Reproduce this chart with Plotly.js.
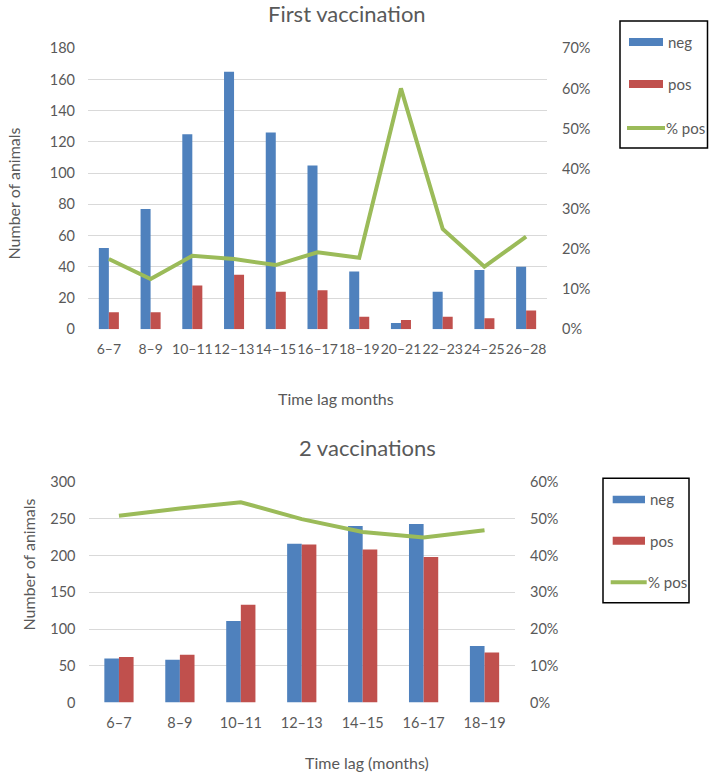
<!DOCTYPE html>
<html>
<head>
<meta charset="utf-8">
<script src="https://cdn.plot.ly/plotly-3.0.1.min.js"></script>
<style>html,body{margin:0;padding:0;background:#fff;}#chart{width:709px;height:774px;}</style>
</head>
<body>
<div id="chart"></div>
<script>
// ---- Data: First vaccination ----
const cats1 = ["6–7","8–9","10–11","12–13","14–15","16–17","18–19","20–21","22–23","24–25","26–28"];
const neg1 = [52, 77, 125, 165, 126, 105, 37, 4, 24, 38, 40];
const pos1 = [11, 11, 28, 35, 24, 25, 8, 6, 8, 7, 12];
const pct1 = [0.175, 0.125, 0.183, 0.175, 0.160, 0.192, 0.178, 0.60, 0.25, 0.156, 0.231];

// ---- Data: 2 vaccinations ----
const cats2 = ["6–7","8–9","10–11","12–13","14–15","16–17","18–19"];
const neg2 = [60, 58, 111, 216, 240, 243, 77];
const pos2 = [62, 65, 133, 215, 208, 198, 68];
const pct2 = [0.508, 0.528, 0.545, 0.499, 0.464, 0.449, 0.469];

const W = 709, H = 774;
const px = v => v / W;
const py = v => 1 - v / H;

const BLUE = "#4f81bd", RED = "#c0504d", GREEN = "#9bbb59";
const GREY = "#595959", GRID = "#d9d9d9";
const FONT = "Lato, 'Open Sans', sans-serif";

const traces = [
  {type: "bar", x: cats1, y: neg1, name: "neg", xaxis: "x", yaxis: "y", marker: {color: BLUE}, showlegend: false},
  {type: "bar", x: cats1, y: pos1, name: "pos", xaxis: "x", yaxis: "y", marker: {color: RED}, showlegend: false},
  {type: "scatter", mode: "lines", x: cats1, y: pct1, name: "% pos", xaxis: "x", yaxis: "y2", line: {color: GREEN, width: 4}, showlegend: false},
  {type: "bar", x: cats2, y: neg2, name: "neg", xaxis: "x2", yaxis: "y3", marker: {color: BLUE}, showlegend: false},
  {type: "bar", x: cats2, y: pos2, name: "pos", xaxis: "x2", yaxis: "y3", marker: {color: RED}, showlegend: false},
  {type: "scatter", mode: "lines", x: cats2, y: pct2, name: "% pos", xaxis: "x2", yaxis: "y4", line: {color: GREEN, width: 4}, showlegend: false}
];

const tickFont = {family: FONT, size: 14.5, color: GREY};
const xTickFont = {family: FONT, size: 14, color: GREY};

const xCommon = {type: "category", showgrid: false, zeroline: false, showline: false, ticks: "", tickangle: 0, tickfont: xTickFont, automargin: false, fixedrange: true, ticklabelstandoff: 10};
const yLeft = {showgrid: true, gridcolor: GRID, gridwidth: 1, zeroline: false, showline: false, ticks: "", tickfont: tickFont, automargin: false, ticklabelstandoff: 12};
const yRight = {showgrid: false, zeroline: false, showline: false, ticks: "", tickfont: tickFont, automargin: false, tickformat: ".0%", side: "right", ticklabelstandoff: 14};

const layout = {
  width: W, height: H,
  margin: {l: 0, r: 0, t: 0, b: 0},
  paper_bgcolor: "#fff", plot_bgcolor: "rgba(0,0,0,0)",
  barmode: "group", bargap: 0.52, bargroupgap: 0,
  showlegend: false,
  font: {family: FONT, color: GREY},
  xaxis: Object.assign({}, xCommon, {domain: [px(88), px(547)], anchor: "y"}),
  yaxis: Object.assign({}, yLeft, {domain: [py(329.3), py(48.3)], range: [0, 180], dtick: 20, anchor: "x"}),
  yaxis2: Object.assign({}, yRight, {overlaying: "y", anchor: "x", range: [0, 0.7], dtick: 0.1}),
  xaxis2: Object.assign({}, xCommon, {domain: [px(88.5), px(515)], anchor: "y3", tickfont: {family: FONT, size: 14.5, color: GREY}}),
  yaxis3: Object.assign({}, yLeft, {domain: [py(702.5), py(482)], range: [0, 300], dtick: 50, anchor: "x2"}),
  yaxis4: Object.assign({}, yRight, {overlaying: "y3", anchor: "x2", range: [0, 0.6], dtick: 0.1}),
  annotations: [
    {text: "First vaccination", x: px(347), y: py(14), xref: "paper", yref: "paper", showarrow: false, xanchor: "center", yanchor: "middle", font: {family: FONT, size: 22, color: GREY}},
    {text: "Number of animals", x: px(12.5), y: py(194), xref: "paper", yref: "paper", showarrow: false, textangle: -90, xanchor: "center", yanchor: "middle", font: {family: FONT, size: 16, color: GREY}},
    {text: "Time lag months", x: px(336), y: py(398), xref: "paper", yref: "paper", showarrow: false, xanchor: "center", yanchor: "middle", font: {family: FONT, size: 16, color: GREY}},
    {text: "2 vaccinations", x: px(367), y: py(447), xref: "paper", yref: "paper", showarrow: false, xanchor: "center", yanchor: "middle", font: {family: FONT, size: 22, color: GREY}},
    {text: "Number of animals", x: px(27.5), y: py(565), xref: "paper", yref: "paper", showarrow: false, textangle: -90, xanchor: "center", yanchor: "middle", font: {family: FONT, size: 16, color: GREY}},
    {text: "Time lag (months)", x: px(367), y: py(762), xref: "paper", yref: "paper", showarrow: false, xanchor: "center", yanchor: "middle", font: {family: FONT, size: 16, color: GREY}},
    // legend texts
    {text: "neg", x: px(667), y: py(42), xref: "paper", yref: "paper", showarrow: false, xanchor: "left", yanchor: "middle", font: {family: FONT, size: 15, color: GREY}},
    {text: "pos", x: px(667), y: py(84), xref: "paper", yref: "paper", showarrow: false, xanchor: "left", yanchor: "middle", font: {family: FONT, size: 15, color: GREY}},
    {text: "% pos", x: px(665), y: py(128), xref: "paper", yref: "paper", showarrow: false, xanchor: "left", yanchor: "middle", font: {family: FONT, size: 15, color: GREY}},
    {text: "neg", x: px(649), y: py(499), xref: "paper", yref: "paper", showarrow: false, xanchor: "left", yanchor: "middle", font: {family: FONT, size: 15, color: GREY}},
    {text: "pos", x: px(649), y: py(540.5), xref: "paper", yref: "paper", showarrow: false, xanchor: "left", yanchor: "middle", font: {family: FONT, size: 15, color: GREY}},
    {text: "% pos", x: px(647), y: py(582), xref: "paper", yref: "paper", showarrow: false, xanchor: "left", yanchor: "middle", font: {family: FONT, size: 15, color: GREY}}
  ].map(a => Object.assign({borderpad: 0}, a)),
  shapes: [
    // legend 1
    {type: "rect", xref: "paper", yref: "paper", x0: px(620), x1: px(707.5), y0: py(148), y1: py(21), line: {color: "#000", width: 1.5}, fillcolor: "rgba(0,0,0,0)"},
    {type: "rect", xref: "paper", yref: "paper", x0: px(629), x1: px(663), y0: py(46), y1: py(38), line: {width: 0}, fillcolor: BLUE},
    {type: "rect", xref: "paper", yref: "paper", x0: px(629), x1: px(663), y0: py(88), y1: py(80), line: {width: 0}, fillcolor: RED},
    {type: "line", xref: "paper", yref: "paper", x0: px(627), x1: px(665), y0: py(128), y1: py(128), line: {color: GREEN, width: 4}},
    // legend 2
    {type: "rect", xref: "paper", yref: "paper", x0: px(603), x1: px(689), y0: py(602.7), y1: py(478.3), line: {color: "#000", width: 1.5}, fillcolor: "rgba(0,0,0,0)"},
    {type: "rect", xref: "paper", yref: "paper", x0: px(612.7), x1: px(645), y0: py(503.3), y1: py(495.7), line: {width: 0}, fillcolor: BLUE},
    {type: "rect", xref: "paper", yref: "paper", x0: px(612.7), x1: px(645), y0: py(544.7), y1: py(536.7), line: {width: 0}, fillcolor: RED},
    {type: "line", xref: "paper", yref: "paper", x0: px(610.7), x1: px(646.7), y0: py(582.3), y1: py(582.3), line: {color: GREEN, width: 4}}
  ]
};

Plotly.newPlot("chart", traces, layout, {staticPlot: true, displayModeBar: false});
</script>
</body>
</html>
